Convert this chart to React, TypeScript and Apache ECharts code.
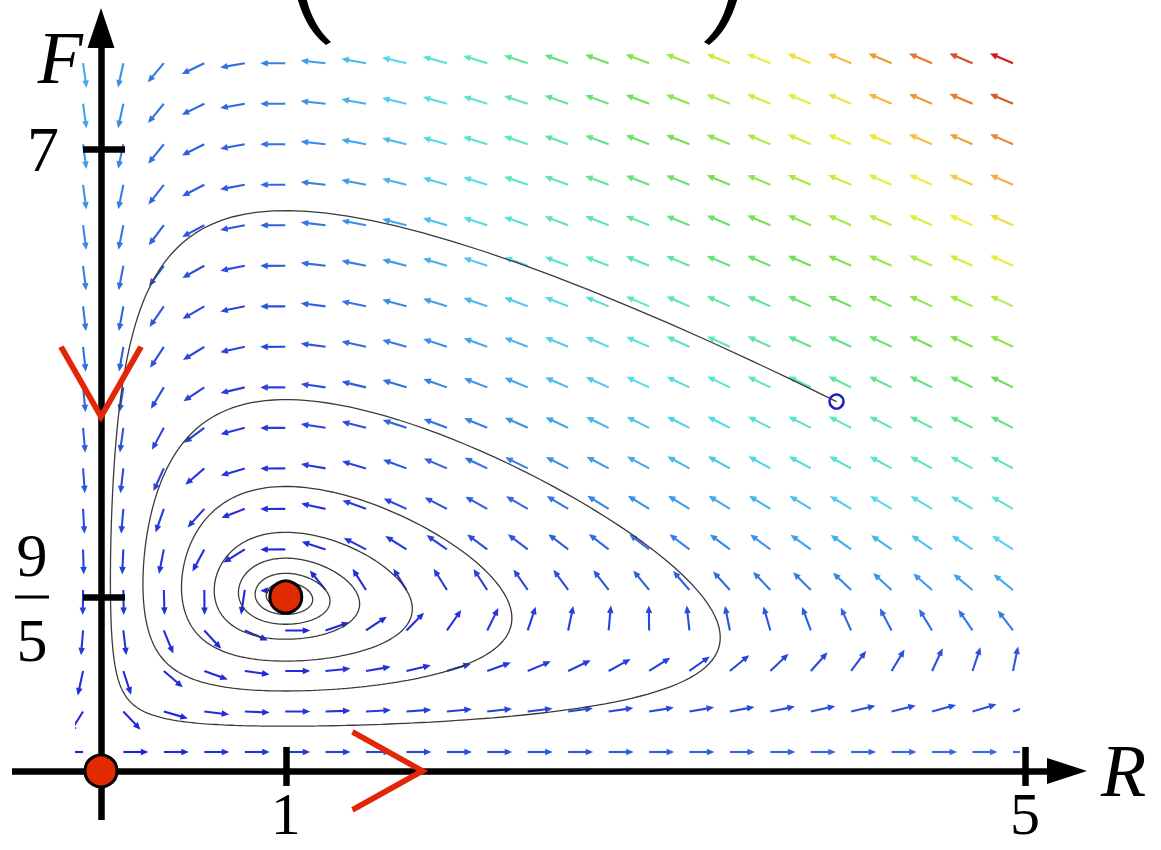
import React, { useEffect, useRef } from "react";
import * as echarts from "echarts";

// ---- data ----
// sample points of the direction field (arrow tails): prey R columns, predator F rows
const rGrid = [-0.097, 0.121, 0.34, 0.559, 0.778, 0.997, 1.215, 1.434, 1.653, 1.872, 2.09, 2.309, 2.528, 2.747, 2.966, 3.184, 3.403, 3.622, 3.841, 4.059, 4.278, 4.497, 4.716, 4.935];
const fGrid = [0, 0.471, 0.941, 1.412, 1.882, 2.353, 2.824, 3.294, 3.765, 4.235, 4.706, 5.176, 5.647, 6.118, 6.588, 7.059, 7.529, 8];
// system shown: R' = R(a - bR - cF), F' = F(dR - e)  -> equilibria (0,0) and (1, 9/5)
const modelCoefficients = [2, 0.2, 1, 1, 1];
const trajectoryStart = [3.98, 4.07];
const trajectoryDuration = 60;
const rAxisLevel = -0.22; // F level at which the R axis is drawn
const equilibriumMarks = [[0, rAxisLevel], [1, 1.8]];
const fAxisChevron = [[0, 4.3]];
const rAxisChevron = [[1.55, rAxisLevel]];
const xTickValues = [1, 5];
const xTickLabels = ["1", "5"];
const yTickValues = [1.8, 7];
const yTickLabels = ["9/5", "7"];
const magnitudeStops: [number, string][] = [
  [0.0, "#1e22d6"], [0.06, "#2a48dc"], [0.12, "#3478e2"], [0.18, "#42a8ea"],
  [0.25, "#58d8ea"], [0.33, "#5ee6c0"], [0.42, "#62e48a"], [0.5, "#6ee054"],
  [0.58, "#9ce844"], [0.66, "#d6f040"], [0.72, "#f4ec3c"], [0.8, "#f2b23a"],
  [0.88, "#e8802e"], [0.95, "#d84c26"], [1.0, "#c8201e"],
];

// ---- layout (pixels) ----
const X0 = 101, PXR = 184.8, Y0 = 752, PXF = 86.1;
const rAt = (x: number) => (x - X0) / PXR;
const fAt = (y: number) => (Y0 - y) / PXF;
const yOf = (f: number) => Y0 - f * PXF;
const SERIF = '"Liberation Serif", "Times New Roman", serif';

// lower tail of a large bracket (decoration of the cropped formula above the plot)
echarts.graphic.registerShape(
  "parenTail",
  echarts.graphic.extendPath("M0 -3Q9 30 29 45L34 42Q16 26 9 -3Z", {}) as any
);

function rates(R: number, F: number) {
  const [a, b, c, d, e] = modelCoefficients;
  return [R * (a - b * R - c * F), F * (d * R - e)];
}

function integrate(start: number[], tEnd: number, dt: number) {
  let [r, f] = start;
  const out: number[][] = [[r, f]];
  const steps = Math.round(tEnd / dt);
  for (let i = 1; i <= steps; i++) {
    const k1 = rates(r, f);
    const k2 = rates(r + (dt / 2) * k1[0], f + (dt / 2) * k1[1]);
    const k3 = rates(r + (dt / 2) * k2[0], f + (dt / 2) * k2[1]);
    const k4 = rates(r + dt * k3[0], f + dt * k3[1]);
    r += (dt / 6) * (k1[0] + 2 * k2[0] + 2 * k3[0] + k4[0]);
    f += (dt / 6) * (k1[1] + 2 * k2[1] + 2 * k3[1] + k4[1]);
    if (i % 2 === 0) out.push([r, f]);
  }
  return out;
}

const fieldPoints: number[][] = [];
fGrid.forEach((f) => rGrid.forEach((r) => fieldPoints.push([r, f])));
const vmax = Math.max(...fieldPoints.map(([r, f]) => Math.hypot(...rates(r, f))));
const trajectory = integrate(trajectoryStart, trajectoryDuration, 0.01);

function hexToRgb(h: string) {
  return [parseInt(h.slice(1, 3), 16), parseInt(h.slice(3, 5), 16), parseInt(h.slice(5, 7), 16)];
}
function colorAt(t: number) {
  t = Math.max(0, Math.min(1, t));
  for (let i = 1; i < magnitudeStops.length; i++) {
    const [t1, c1] = magnitudeStops[i];
    const [t0, c0] = magnitudeStops[i - 1];
    if (t <= t1) {
      const u = (t - t0) / (t1 - t0 || 1);
      const a = hexToRgb(c0), b = hexToRgb(c1);
      const m = a.map((v, k) => Math.round(v + (b[k] - v) * u));
      return `rgb(${m[0]},${m[1]},${m[2]})`;
    }
  }
  return magnitudeStops[magnitudeStops.length - 1][1];
}

const tickLine = { color: "#000", width: 6.5 };
const gridA = { left: 75, top: 35, width: 945, height: 730 };
const gridB = { left: 12, top: 28, width: 1055, height: 792 };
const xOffset = -(gridB.top + gridB.height - yOf(rAxisLevel));
const yOffset = gridB.left - X0; // moves the F axis to R = 0

const option: any = {
  animation: false,
  backgroundColor: "#ffffff",
  grid: [
    { ...gridA, outerBoundsMode: "none" },
    { ...gridB, outerBoundsMode: "none" },
  ],
  xAxis: [
    { gridIndex: 0, type: "value", min: rAt(gridA.left), max: rAt(gridA.left + gridA.width), show: false },
    {
      gridIndex: 1, type: "value", min: rAt(gridB.left), max: rAt(gridB.left + gridB.width),
      position: "bottom", offset: xOffset, z: 5,
      axisLine: { show: true, onZero: false, symbol: ["none", "triangle"], symbolSize: [26, 40], lineStyle: { color: "#000", width: 6.5, cap: "butt" } },
      axisTick: { show: true, customValues: xTickValues, inside: false, length: 15, lineStyle: tickLine },
      axisLabel: {
        show: true, customValues: xTickValues, margin: 19,
        formatter: (v: number) => xTickLabels[xTickValues.findIndex((t) => Math.abs(t - v) < 1e-9)] ?? "",
        fontFamily: SERIF, fontSize: 60, lineHeight: 48, color: "#000",
      },
      splitLine: { show: false },
      name: "R", nameLocation: "end", nameGap: 34, nameMoveOverlap: false,
      nameTextStyle: { fontFamily: SERIF, fontStyle: "italic", fontSize: 74, color: "#000" },
    },
    {
      gridIndex: 1, type: "value", min: rAt(gridB.left), max: rAt(gridB.left + gridB.width),
      position: "bottom", offset: xOffset, z: 5,
      axisLine: { show: false, onZero: false },
      axisTick: { show: true, customValues: xTickValues, inside: true, length: 24, lineStyle: tickLine },
      axisLabel: { show: false },
      splitLine: { show: false },
    },
  ],
  yAxis: [
    { gridIndex: 0, type: "value", min: fAt(gridA.top + gridA.height), max: fAt(gridA.top), show: false },
    {
      gridIndex: 1, type: "value", min: fAt(gridB.top + gridB.height), max: fAt(gridB.top), z: 5,
      position: "left", offset: yOffset,
      axisLine: { show: true, onZero: false, symbol: ["none", "triangle"], symbolSize: [27, 40], lineStyle: { color: "#000", width: 6.5, cap: "butt" } },
      axisTick: { show: true, customValues: yTickValues, inside: false, length: 18, lineStyle: tickLine },
      axisLabel: {
        show: true, customValues: yTickValues, margin: 42,
        formatter: (v: number) => {
          const lab = yTickLabels[yTickValues.findIndex((t) => Math.abs(t - v) < 1e-9)] ?? "";
          if (lab.includes("/")) {
            const [n, d] = lab.split("/");
            return `{fd|${n}}\n{bar| }{sp| }\n{fd|${d}}`;
          }
          return `{s|${lab}}`;
        },
        fontFamily: SERIF, fontSize: 64, color: "#000", align: "right",
        rich: {
          s: { fontFamily: SERIF, fontSize: 64, color: "#000", align: "right" },
          fd: { fontFamily: SERIF, fontSize: 62, color: "#000", width: 54, align: "center", lineHeight: 82 },
          bar: { fontSize: 1, width: 34, height: 3, lineHeight: 3, backgroundColor: "#000" },
          sp: { fontSize: 1, width: 10, height: 3, lineHeight: 3 },
        },
      },
      splitLine: { show: false },
      name: "F", nameLocation: "end", nameGap: 7, nameMoveOverlap: false,
      nameTextStyle: { fontFamily: SERIF, fontStyle: "italic", fontSize: 74, color: "#000", align: "right", verticalAlign: "top", padding: [0, 18, 0, 0] },
    },
    {
      gridIndex: 1, type: "value", min: fAt(gridB.top + gridB.height), max: fAt(gridB.top), z: 5,
      position: "left", offset: yOffset,
      axisLine: { show: false, onZero: false },
      axisTick: { show: true, customValues: yTickValues, inside: true, length: 24, lineStyle: tickLine },
      axisLabel: { show: false },
      splitLine: { show: false },
    },
  ],
  graphic: [
    { type: "parenTail", x: 297, y: 0, z: 20, style: { fill: "#000" } },
    { type: "parenTail", x: 738, y: 0, scaleX: -1, z: 20, style: { fill: "#000" } },
  ],
  series: [
    {
      type: "custom", name: "field", xAxisIndex: 0, yAxisIndex: 0, clip: true, z: 2,
      data: fieldPoints,
      renderItem: (params: any, api: any) => {
        const R = api.value(0), F = api.value(1);
        const [dR, dF] = rates(R, F);
        const mag = Math.hypot(dR, dF);
        const sz = api.size([1, 1]);
        let vx = dR * sz[0], vy = -dF * sz[1];
        const n = Math.hypot(vx, vy) || 1;
        vx /= n; vy /= n;
        const p = api.coord([R, F]);
        const L = 25, H = 7.5, W = 3.3;
        const tip = [p[0] + vx * L, p[1] + vy * L];
        const base = [tip[0] - vx * H, tip[1] - vy * H];
        const px = -vy, py = vx;
        const color = colorAt(mag / vmax);
        return {
          type: "group",
          children: [
            { type: "line", shape: { x1: p[0], y1: p[1], x2: base[0] + vx, y2: base[1] + vy }, style: { stroke: color, lineWidth: 2.1 } },
            { type: "polygon", shape: { points: [tip, [base[0] + px * W, base[1] + py * W], [base[0] - px * W, base[1] - py * W]] }, style: { fill: color } },
          ],
        };
      },
    },
    {
      type: "line", name: "trajectory", xAxisIndex: 0, yAxisIndex: 0, data: trajectory, showSymbol: false, z: 4,
      lineStyle: { color: "#3a3a3a", width: 1.3 }, clip: false, silent: true,
    },
    {
      type: "scatter", name: "start", xAxisIndex: 0, yAxisIndex: 0, data: [trajectoryStart], z: 6,
      symbol: "circle", symbolSize: 14, itemStyle: { color: "rgba(255,255,255,0)", borderColor: "#1f1fc8", borderWidth: 2.4, opacity: 1 },
    },
    {
      type: "scatter", name: "chevronF", xAxisIndex: 1, yAxisIndex: 1, data: fAxisChevron, z: 8, clip: false,
      symbol: "path://M0,0L40,70L80,0", symbolSize: [80, 70],
      itemStyle: { color: "none", borderColor: "#e3260a", borderWidth: 5.5, borderJoin: "miter", borderCap: "butt", opacity: 1 },
    },
    {
      type: "scatter", name: "chevronR", xAxisIndex: 1, yAxisIndex: 1, data: rAxisChevron, z: 8, clip: false,
      symbol: "path://M0,0L70,39L0,78", symbolSize: [70, 78],
      itemStyle: { color: "none", borderColor: "#e3260a", borderWidth: 5.5, borderJoin: "miter", borderCap: "butt", opacity: 1 },
    },
    {
      type: "scatter", name: "equilibria", xAxisIndex: 1, yAxisIndex: 1, data: equilibriumMarks, z: 10, clip: false,
      symbol: "circle", symbolSize: 32, itemStyle: { color: "#e22a00", borderColor: "#000", borderWidth: 3, opacity: 1 },
    },
  ],
};

export default function App() {
  const ref = useRef<HTMLDivElement>(null);
  useEffect(() => {
    const chart = echarts.init(ref.current!, undefined, { renderer: "svg" });
    chart.setOption(option);
    return () => chart.dispose();
  }, []);
  return (
    <div
      ref={ref}
      style={{ position: "absolute", left: 0, top: 0, width: 1161, height: 850, background: "#fff" }}
    />
  );
}
